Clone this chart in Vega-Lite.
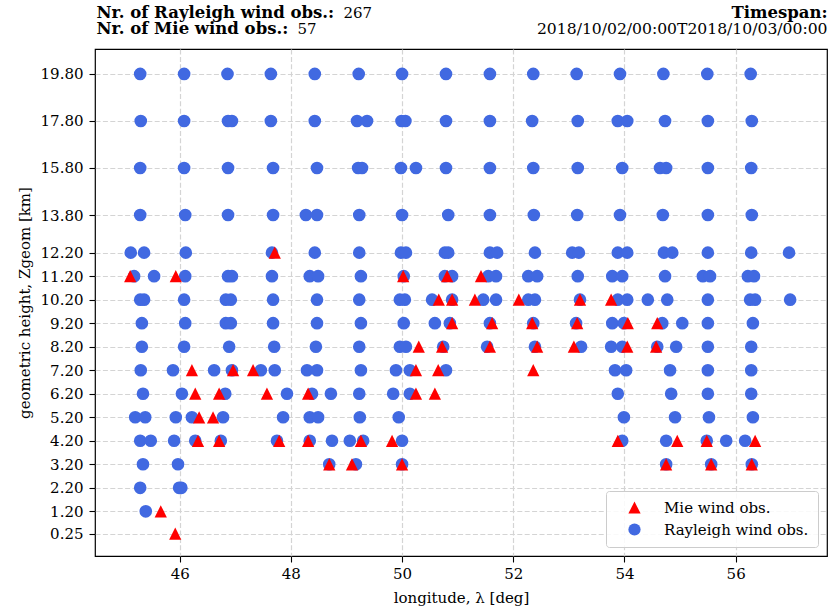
{
  "$schema": "https://vega.github.io/schema/vega-lite/v6.json",
  "width": 732,
  "height": 507,
  "autosize": {"type": "none"},
  "padding": {"left": 95, "top": 49, "right": 1, "bottom": 60},
  "background": "white",
  "config": {
    "view": {"stroke": "black", "strokeWidth": 1.2},
    "font": "DejaVu Serif",
    "axis": {
      "labelFont": "DejaVu Serif", "labelFontSize": 15, "labelColor": "black",
      "titleFont": "DejaVu Serif", "titleFontSize": 15, "titleFontWeight": "normal", "titleColor": "black",
      "tickColor": "black", "tickSize": 6, "tickWidth": 1.1,
      "domain": false,
      "gridColor": "#d4d4d4", "gridDash": [5, 2.4], "gridWidth": 1.2
    }
  },
  "data": {"values": [
    {"obs": "Rayleigh wind obs.", "lon": 45.29, "h": 19.8}, {"obs": "Rayleigh wind obs.", "lon": 46.08, "h": 19.8}, {"obs": "Rayleigh wind obs.", "lon": 46.86, "h": 19.8}, {"obs": "Rayleigh wind obs.", "lon": 47.64, "h": 19.8}, {"obs": "Rayleigh wind obs.", "lon": 48.43, "h": 19.8}, {"obs": "Rayleigh wind obs.", "lon": 49.22, "h": 19.8}, {"obs": "Rayleigh wind obs.", "lon": 50.0, "h": 19.8}, {"obs": "Rayleigh wind obs.", "lon": 50.79, "h": 19.8}, {"obs": "Rayleigh wind obs.", "lon": 51.58, "h": 19.8}, {"obs": "Rayleigh wind obs.", "lon": 52.36, "h": 19.8}, {"obs": "Rayleigh wind obs.", "lon": 53.14, "h": 19.8}, {"obs": "Rayleigh wind obs.", "lon": 53.92, "h": 19.8}, {"obs": "Rayleigh wind obs.", "lon": 54.7, "h": 19.8}, {"obs": "Rayleigh wind obs.", "lon": 55.49, "h": 19.8}, {"obs": "Rayleigh wind obs.", "lon": 56.27, "h": 19.8},
    {"obs": "Rayleigh wind obs.", "lon": 45.3, "h": 17.8}, {"obs": "Rayleigh wind obs.", "lon": 46.08, "h": 17.8}, {"obs": "Rayleigh wind obs.", "lon": 46.87, "h": 17.8}, {"obs": "Rayleigh wind obs.", "lon": 46.94, "h": 17.8}, {"obs": "Rayleigh wind obs.", "lon": 47.64, "h": 17.8}, {"obs": "Rayleigh wind obs.", "lon": 48.43, "h": 17.8}, {"obs": "Rayleigh wind obs.", "lon": 49.19, "h": 17.8}, {"obs": "Rayleigh wind obs.", "lon": 49.37, "h": 17.8}, {"obs": "Rayleigh wind obs.", "lon": 49.99, "h": 17.8}, {"obs": "Rayleigh wind obs.", "lon": 50.06, "h": 17.8}, {"obs": "Rayleigh wind obs.", "lon": 50.79, "h": 17.8}, {"obs": "Rayleigh wind obs.", "lon": 51.58, "h": 17.8}, {"obs": "Rayleigh wind obs.", "lon": 52.34, "h": 17.8}, {"obs": "Rayleigh wind obs.", "lon": 53.16, "h": 17.8}, {"obs": "Rayleigh wind obs.", "lon": 53.88, "h": 17.8}, {"obs": "Rayleigh wind obs.", "lon": 54.05, "h": 17.8}, {"obs": "Rayleigh wind obs.", "lon": 54.73, "h": 17.8}, {"obs": "Rayleigh wind obs.", "lon": 55.5, "h": 17.8}, {"obs": "Rayleigh wind obs.", "lon": 56.29, "h": 17.8},
    {"obs": "Rayleigh wind obs.", "lon": 45.29, "h": 15.8}, {"obs": "Rayleigh wind obs.", "lon": 46.08, "h": 15.8}, {"obs": "Rayleigh wind obs.", "lon": 46.87, "h": 15.8}, {"obs": "Rayleigh wind obs.", "lon": 47.68, "h": 15.8}, {"obs": "Rayleigh wind obs.", "lon": 48.47, "h": 15.8}, {"obs": "Rayleigh wind obs.", "lon": 49.21, "h": 15.8}, {"obs": "Rayleigh wind obs.", "lon": 49.28, "h": 15.8}, {"obs": "Rayleigh wind obs.", "lon": 49.98, "h": 15.8}, {"obs": "Rayleigh wind obs.", "lon": 50.25, "h": 15.8}, {"obs": "Rayleigh wind obs.", "lon": 50.79, "h": 15.8}, {"obs": "Rayleigh wind obs.", "lon": 51.58, "h": 15.8}, {"obs": "Rayleigh wind obs.", "lon": 52.36, "h": 15.8}, {"obs": "Rayleigh wind obs.", "lon": 53.16, "h": 15.8}, {"obs": "Rayleigh wind obs.", "lon": 53.96, "h": 15.8}, {"obs": "Rayleigh wind obs.", "lon": 54.64, "h": 15.8}, {"obs": "Rayleigh wind obs.", "lon": 54.75, "h": 15.8}, {"obs": "Rayleigh wind obs.", "lon": 55.5, "h": 15.8}, {"obs": "Rayleigh wind obs.", "lon": 56.28, "h": 15.8},
    {"obs": "Rayleigh wind obs.", "lon": 45.29, "h": 13.8}, {"obs": "Rayleigh wind obs.", "lon": 46.1, "h": 13.8}, {"obs": "Rayleigh wind obs.", "lon": 46.87, "h": 13.8}, {"obs": "Rayleigh wind obs.", "lon": 47.68, "h": 13.8}, {"obs": "Rayleigh wind obs.", "lon": 48.27, "h": 13.8}, {"obs": "Rayleigh wind obs.", "lon": 48.47, "h": 13.8}, {"obs": "Rayleigh wind obs.", "lon": 49.23, "h": 13.8}, {"obs": "Rayleigh wind obs.", "lon": 50.0, "h": 13.8}, {"obs": "Rayleigh wind obs.", "lon": 50.83, "h": 13.8}, {"obs": "Rayleigh wind obs.", "lon": 51.58, "h": 13.8}, {"obs": "Rayleigh wind obs.", "lon": 52.37, "h": 13.8}, {"obs": "Rayleigh wind obs.", "lon": 53.15, "h": 13.8}, {"obs": "Rayleigh wind obs.", "lon": 53.92, "h": 13.8}, {"obs": "Rayleigh wind obs.", "lon": 54.69, "h": 13.8}, {"obs": "Rayleigh wind obs.", "lon": 55.5, "h": 13.8}, {"obs": "Rayleigh wind obs.", "lon": 56.29, "h": 13.8},
    {"obs": "Rayleigh wind obs.", "lon": 45.12, "h": 12.2}, {"obs": "Rayleigh wind obs.", "lon": 45.36, "h": 12.2}, {"obs": "Rayleigh wind obs.", "lon": 46.11, "h": 12.2}, {"obs": "Rayleigh wind obs.", "lon": 47.66, "h": 12.2}, {"obs": "Rayleigh wind obs.", "lon": 48.43, "h": 12.2}, {"obs": "Rayleigh wind obs.", "lon": 49.23, "h": 12.2}, {"obs": "Rayleigh wind obs.", "lon": 49.98, "h": 12.2}, {"obs": "Rayleigh wind obs.", "lon": 50.07, "h": 12.2}, {"obs": "Rayleigh wind obs.", "lon": 50.77, "h": 12.2}, {"obs": "Rayleigh wind obs.", "lon": 50.83, "h": 12.2}, {"obs": "Rayleigh wind obs.", "lon": 51.58, "h": 12.2}, {"obs": "Rayleigh wind obs.", "lon": 51.71, "h": 12.2}, {"obs": "Rayleigh wind obs.", "lon": 52.39, "h": 12.2}, {"obs": "Rayleigh wind obs.", "lon": 53.06, "h": 12.2}, {"obs": "Rayleigh wind obs.", "lon": 53.18, "h": 12.2}, {"obs": "Rayleigh wind obs.", "lon": 53.88, "h": 12.2}, {"obs": "Rayleigh wind obs.", "lon": 54.05, "h": 12.2}, {"obs": "Rayleigh wind obs.", "lon": 54.71, "h": 12.2}, {"obs": "Rayleigh wind obs.", "lon": 54.86, "h": 12.2}, {"obs": "Rayleigh wind obs.", "lon": 55.5, "h": 12.2}, {"obs": "Rayleigh wind obs.", "lon": 56.28, "h": 12.2}, {"obs": "Rayleigh wind obs.", "lon": 56.96, "h": 12.2},
    {"obs": "Rayleigh wind obs.", "lon": 45.18, "h": 11.2}, {"obs": "Rayleigh wind obs.", "lon": 45.54, "h": 11.2}, {"obs": "Rayleigh wind obs.", "lon": 46.1, "h": 11.2}, {"obs": "Rayleigh wind obs.", "lon": 46.87, "h": 11.2}, {"obs": "Rayleigh wind obs.", "lon": 46.94, "h": 11.2}, {"obs": "Rayleigh wind obs.", "lon": 47.66, "h": 11.2}, {"obs": "Rayleigh wind obs.", "lon": 48.34, "h": 11.2}, {"obs": "Rayleigh wind obs.", "lon": 48.49, "h": 11.2}, {"obs": "Rayleigh wind obs.", "lon": 49.26, "h": 11.2}, {"obs": "Rayleigh wind obs.", "lon": 50.03, "h": 11.2}, {"obs": "Rayleigh wind obs.", "lon": 50.77, "h": 11.2}, {"obs": "Rayleigh wind obs.", "lon": 50.9, "h": 11.2}, {"obs": "Rayleigh wind obs.", "lon": 51.55, "h": 11.2}, {"obs": "Rayleigh wind obs.", "lon": 51.69, "h": 11.2}, {"obs": "Rayleigh wind obs.", "lon": 52.27, "h": 11.2}, {"obs": "Rayleigh wind obs.", "lon": 52.43, "h": 11.2}, {"obs": "Rayleigh wind obs.", "lon": 53.16, "h": 11.2}, {"obs": "Rayleigh wind obs.", "lon": 53.78, "h": 11.2}, {"obs": "Rayleigh wind obs.", "lon": 53.96, "h": 11.2}, {"obs": "Rayleigh wind obs.", "lon": 54.73, "h": 11.2}, {"obs": "Rayleigh wind obs.", "lon": 55.41, "h": 11.2}, {"obs": "Rayleigh wind obs.", "lon": 55.54, "h": 11.2}, {"obs": "Rayleigh wind obs.", "lon": 56.22, "h": 11.2}, {"obs": "Rayleigh wind obs.", "lon": 56.33, "h": 11.2},
    {"obs": "Rayleigh wind obs.", "lon": 45.29, "h": 10.2}, {"obs": "Rayleigh wind obs.", "lon": 45.36, "h": 10.2}, {"obs": "Rayleigh wind obs.", "lon": 46.08, "h": 10.2}, {"obs": "Rayleigh wind obs.", "lon": 46.83, "h": 10.2}, {"obs": "Rayleigh wind obs.", "lon": 46.92, "h": 10.2}, {"obs": "Rayleigh wind obs.", "lon": 47.68, "h": 10.2}, {"obs": "Rayleigh wind obs.", "lon": 48.47, "h": 10.2}, {"obs": "Rayleigh wind obs.", "lon": 49.23, "h": 10.2}, {"obs": "Rayleigh wind obs.", "lon": 49.96, "h": 10.2}, {"obs": "Rayleigh wind obs.", "lon": 50.05, "h": 10.2}, {"obs": "Rayleigh wind obs.", "lon": 50.54, "h": 10.2}, {"obs": "Rayleigh wind obs.", "lon": 50.9, "h": 10.2}, {"obs": "Rayleigh wind obs.", "lon": 51.46, "h": 10.2}, {"obs": "Rayleigh wind obs.", "lon": 51.69, "h": 10.2}, {"obs": "Rayleigh wind obs.", "lon": 52.27, "h": 10.2}, {"obs": "Rayleigh wind obs.", "lon": 52.39, "h": 10.2}, {"obs": "Rayleigh wind obs.", "lon": 53.2, "h": 10.2}, {"obs": "Rayleigh wind obs.", "lon": 53.88, "h": 10.2}, {"obs": "Rayleigh wind obs.", "lon": 54.05, "h": 10.2}, {"obs": "Rayleigh wind obs.", "lon": 54.42, "h": 10.2}, {"obs": "Rayleigh wind obs.", "lon": 54.77, "h": 10.2}, {"obs": "Rayleigh wind obs.", "lon": 55.5, "h": 10.2}, {"obs": "Rayleigh wind obs.", "lon": 56.26, "h": 10.2}, {"obs": "Rayleigh wind obs.", "lon": 56.35, "h": 10.2}, {"obs": "Rayleigh wind obs.", "lon": 56.98, "h": 10.2},
    {"obs": "Rayleigh wind obs.", "lon": 45.32, "h": 9.2}, {"obs": "Rayleigh wind obs.", "lon": 46.1, "h": 9.2}, {"obs": "Rayleigh wind obs.", "lon": 46.83, "h": 9.2}, {"obs": "Rayleigh wind obs.", "lon": 46.92, "h": 9.2}, {"obs": "Rayleigh wind obs.", "lon": 47.68, "h": 9.2}, {"obs": "Rayleigh wind obs.", "lon": 48.47, "h": 9.2}, {"obs": "Rayleigh wind obs.", "lon": 49.26, "h": 9.2}, {"obs": "Rayleigh wind obs.", "lon": 50.03, "h": 9.2}, {"obs": "Rayleigh wind obs.", "lon": 50.59, "h": 9.2}, {"obs": "Rayleigh wind obs.", "lon": 50.86, "h": 9.2}, {"obs": "Rayleigh wind obs.", "lon": 51.58, "h": 9.2}, {"obs": "Rayleigh wind obs.", "lon": 52.36, "h": 9.2}, {"obs": "Rayleigh wind obs.", "lon": 53.13, "h": 9.2}, {"obs": "Rayleigh wind obs.", "lon": 53.78, "h": 9.2}, {"obs": "Rayleigh wind obs.", "lon": 53.99, "h": 9.2}, {"obs": "Rayleigh wind obs.", "lon": 54.68, "h": 9.2}, {"obs": "Rayleigh wind obs.", "lon": 55.04, "h": 9.2}, {"obs": "Rayleigh wind obs.", "lon": 55.5, "h": 9.2}, {"obs": "Rayleigh wind obs.", "lon": 56.31, "h": 9.2},
    {"obs": "Rayleigh wind obs.", "lon": 45.32, "h": 8.2}, {"obs": "Rayleigh wind obs.", "lon": 46.08, "h": 8.2}, {"obs": "Rayleigh wind obs.", "lon": 46.89, "h": 8.2}, {"obs": "Rayleigh wind obs.", "lon": 47.7, "h": 8.2}, {"obs": "Rayleigh wind obs.", "lon": 48.45, "h": 8.2}, {"obs": "Rayleigh wind obs.", "lon": 49.23, "h": 8.2}, {"obs": "Rayleigh wind obs.", "lon": 49.96, "h": 8.2}, {"obs": "Rayleigh wind obs.", "lon": 50.07, "h": 8.2}, {"obs": "Rayleigh wind obs.", "lon": 50.74, "h": 8.2}, {"obs": "Rayleigh wind obs.", "lon": 51.53, "h": 8.2}, {"obs": "Rayleigh wind obs.", "lon": 52.39, "h": 8.2}, {"obs": "Rayleigh wind obs.", "lon": 53.22, "h": 8.2}, {"obs": "Rayleigh wind obs.", "lon": 53.76, "h": 8.2}, {"obs": "Rayleigh wind obs.", "lon": 53.96, "h": 8.2}, {"obs": "Rayleigh wind obs.", "lon": 54.59, "h": 8.2}, {"obs": "Rayleigh wind obs.", "lon": 54.93, "h": 8.2}, {"obs": "Rayleigh wind obs.", "lon": 55.5, "h": 8.2}, {"obs": "Rayleigh wind obs.", "lon": 56.28, "h": 8.2},
    {"obs": "Rayleigh wind obs.", "lon": 45.3, "h": 7.2}, {"obs": "Rayleigh wind obs.", "lon": 45.88, "h": 7.2}, {"obs": "Rayleigh wind obs.", "lon": 46.62, "h": 7.2}, {"obs": "Rayleigh wind obs.", "lon": 46.94, "h": 7.2}, {"obs": "Rayleigh wind obs.", "lon": 47.46, "h": 7.2}, {"obs": "Rayleigh wind obs.", "lon": 47.71, "h": 7.2}, {"obs": "Rayleigh wind obs.", "lon": 48.29, "h": 7.2}, {"obs": "Rayleigh wind obs.", "lon": 48.47, "h": 7.2}, {"obs": "Rayleigh wind obs.", "lon": 49.26, "h": 7.2}, {"obs": "Rayleigh wind obs.", "lon": 49.89, "h": 7.2}, {"obs": "Rayleigh wind obs.", "lon": 50.14, "h": 7.2}, {"obs": "Rayleigh wind obs.", "lon": 50.79, "h": 7.2}, {"obs": "Rayleigh wind obs.", "lon": 53.83, "h": 7.2}, {"obs": "Rayleigh wind obs.", "lon": 54.03, "h": 7.2}, {"obs": "Rayleigh wind obs.", "lon": 54.82, "h": 7.2}, {"obs": "Rayleigh wind obs.", "lon": 55.5, "h": 7.2}, {"obs": "Rayleigh wind obs.", "lon": 56.28, "h": 7.2},
    {"obs": "Rayleigh wind obs.", "lon": 45.34, "h": 6.2}, {"obs": "Rayleigh wind obs.", "lon": 46.04, "h": 6.2}, {"obs": "Rayleigh wind obs.", "lon": 46.82, "h": 6.2}, {"obs": "Rayleigh wind obs.", "lon": 47.93, "h": 6.2}, {"obs": "Rayleigh wind obs.", "lon": 48.38, "h": 6.2}, {"obs": "Rayleigh wind obs.", "lon": 48.72, "h": 6.2}, {"obs": "Rayleigh wind obs.", "lon": 49.23, "h": 6.2}, {"obs": "Rayleigh wind obs.", "lon": 49.84, "h": 6.2}, {"obs": "Rayleigh wind obs.", "lon": 50.14, "h": 6.2}, {"obs": "Rayleigh wind obs.", "lon": 53.88, "h": 6.2}, {"obs": "Rayleigh wind obs.", "lon": 54.84, "h": 6.2}, {"obs": "Rayleigh wind obs.", "lon": 55.5, "h": 6.2}, {"obs": "Rayleigh wind obs.", "lon": 56.28, "h": 6.2},
    {"obs": "Rayleigh wind obs.", "lon": 45.2, "h": 5.2}, {"obs": "Rayleigh wind obs.", "lon": 45.38, "h": 5.2}, {"obs": "Rayleigh wind obs.", "lon": 45.93, "h": 5.2}, {"obs": "Rayleigh wind obs.", "lon": 46.22, "h": 5.2}, {"obs": "Rayleigh wind obs.", "lon": 46.78, "h": 5.2}, {"obs": "Rayleigh wind obs.", "lon": 47.86, "h": 5.2}, {"obs": "Rayleigh wind obs.", "lon": 48.34, "h": 5.2}, {"obs": "Rayleigh wind obs.", "lon": 48.49, "h": 5.2}, {"obs": "Rayleigh wind obs.", "lon": 49.24, "h": 5.2}, {"obs": "Rayleigh wind obs.", "lon": 49.94, "h": 5.2}, {"obs": "Rayleigh wind obs.", "lon": 53.99, "h": 5.2}, {"obs": "Rayleigh wind obs.", "lon": 54.91, "h": 5.2}, {"obs": "Rayleigh wind obs.", "lon": 55.52, "h": 5.2}, {"obs": "Rayleigh wind obs.", "lon": 56.31, "h": 5.2},
    {"obs": "Rayleigh wind obs.", "lon": 45.29, "h": 4.2}, {"obs": "Rayleigh wind obs.", "lon": 45.48, "h": 4.2}, {"obs": "Rayleigh wind obs.", "lon": 45.9, "h": 4.2}, {"obs": "Rayleigh wind obs.", "lon": 46.28, "h": 4.2}, {"obs": "Rayleigh wind obs.", "lon": 46.74, "h": 4.2}, {"obs": "Rayleigh wind obs.", "lon": 47.75, "h": 4.2}, {"obs": "Rayleigh wind obs.", "lon": 48.34, "h": 4.2}, {"obs": "Rayleigh wind obs.", "lon": 48.74, "h": 4.2}, {"obs": "Rayleigh wind obs.", "lon": 49.06, "h": 4.2}, {"obs": "Rayleigh wind obs.", "lon": 49.3, "h": 4.2}, {"obs": "Rayleigh wind obs.", "lon": 50.0, "h": 4.2}, {"obs": "Rayleigh wind obs.", "lon": 53.96, "h": 4.2}, {"obs": "Rayleigh wind obs.", "lon": 54.75, "h": 4.2}, {"obs": "Rayleigh wind obs.", "lon": 55.48, "h": 4.2}, {"obs": "Rayleigh wind obs.", "lon": 55.83, "h": 4.2}, {"obs": "Rayleigh wind obs.", "lon": 56.17, "h": 4.2},
    {"obs": "Rayleigh wind obs.", "lon": 45.34, "h": 3.2}, {"obs": "Rayleigh wind obs.", "lon": 45.97, "h": 3.2}, {"obs": "Rayleigh wind obs.", "lon": 48.69, "h": 3.2}, {"obs": "Rayleigh wind obs.", "lon": 49.17, "h": 3.2}, {"obs": "Rayleigh wind obs.", "lon": 50.0, "h": 3.2}, {"obs": "Rayleigh wind obs.", "lon": 54.75, "h": 3.2}, {"obs": "Rayleigh wind obs.", "lon": 55.56, "h": 3.2}, {"obs": "Rayleigh wind obs.", "lon": 56.29, "h": 3.2},
    {"obs": "Rayleigh wind obs.", "lon": 45.29, "h": 2.2}, {"obs": "Rayleigh wind obs.", "lon": 45.99, "h": 2.2}, {"obs": "Rayleigh wind obs.", "lon": 46.03, "h": 2.2},
    {"obs": "Rayleigh wind obs.", "lon": 45.39, "h": 1.2},
    {"obs": "Mie wind obs.", "lon": 47.71, "h": 12.2},
    {"obs": "Mie wind obs.", "lon": 45.11, "h": 11.2}, {"obs": "Mie wind obs.", "lon": 45.93, "h": 11.2}, {"obs": "Mie wind obs.", "lon": 50.02, "h": 11.2}, {"obs": "Mie wind obs.", "lon": 50.81, "h": 11.2}, {"obs": "Mie wind obs.", "lon": 51.42, "h": 11.2},
    {"obs": "Mie wind obs.", "lon": 50.66, "h": 10.2}, {"obs": "Mie wind obs.", "lon": 50.9, "h": 10.2}, {"obs": "Mie wind obs.", "lon": 51.31, "h": 10.2}, {"obs": "Mie wind obs.", "lon": 52.1, "h": 10.2}, {"obs": "Mie wind obs.", "lon": 53.2, "h": 10.2}, {"obs": "Mie wind obs.", "lon": 53.76, "h": 10.2},
    {"obs": "Mie wind obs.", "lon": 50.9, "h": 9.2}, {"obs": "Mie wind obs.", "lon": 51.62, "h": 9.2}, {"obs": "Mie wind obs.", "lon": 52.34, "h": 9.2}, {"obs": "Mie wind obs.", "lon": 53.15, "h": 9.2}, {"obs": "Mie wind obs.", "lon": 54.06, "h": 9.2}, {"obs": "Mie wind obs.", "lon": 54.59, "h": 9.2},
    {"obs": "Mie wind obs.", "lon": 50.3, "h": 8.2}, {"obs": "Mie wind obs.", "lon": 50.72, "h": 8.2}, {"obs": "Mie wind obs.", "lon": 51.58, "h": 8.2}, {"obs": "Mie wind obs.", "lon": 52.43, "h": 8.2}, {"obs": "Mie wind obs.", "lon": 53.09, "h": 8.2}, {"obs": "Mie wind obs.", "lon": 54.05, "h": 8.2}, {"obs": "Mie wind obs.", "lon": 54.57, "h": 8.2},
    {"obs": "Mie wind obs.", "lon": 46.22, "h": 7.2}, {"obs": "Mie wind obs.", "lon": 46.96, "h": 7.2}, {"obs": "Mie wind obs.", "lon": 47.32, "h": 7.2}, {"obs": "Mie wind obs.", "lon": 50.25, "h": 7.2}, {"obs": "Mie wind obs.", "lon": 50.65, "h": 7.2}, {"obs": "Mie wind obs.", "lon": 52.36, "h": 7.2},
    {"obs": "Mie wind obs.", "lon": 46.28, "h": 6.2}, {"obs": "Mie wind obs.", "lon": 46.71, "h": 6.2}, {"obs": "Mie wind obs.", "lon": 47.57, "h": 6.2}, {"obs": "Mie wind obs.", "lon": 48.31, "h": 6.2}, {"obs": "Mie wind obs.", "lon": 50.25, "h": 6.2}, {"obs": "Mie wind obs.", "lon": 50.59, "h": 6.2},
    {"obs": "Mie wind obs.", "lon": 46.35, "h": 5.2}, {"obs": "Mie wind obs.", "lon": 46.6, "h": 5.2},
    {"obs": "Mie wind obs.", "lon": 46.33, "h": 4.2}, {"obs": "Mie wind obs.", "lon": 46.71, "h": 4.2}, {"obs": "Mie wind obs.", "lon": 47.79, "h": 4.2}, {"obs": "Mie wind obs.", "lon": 48.31, "h": 4.2}, {"obs": "Mie wind obs.", "lon": 49.26, "h": 4.2}, {"obs": "Mie wind obs.", "lon": 49.82, "h": 4.2}, {"obs": "Mie wind obs.", "lon": 53.88, "h": 4.2}, {"obs": "Mie wind obs.", "lon": 54.95, "h": 4.2}, {"obs": "Mie wind obs.", "lon": 55.48, "h": 4.2}, {"obs": "Mie wind obs.", "lon": 56.35, "h": 4.2},
    {"obs": "Mie wind obs.", "lon": 48.69, "h": 3.2}, {"obs": "Mie wind obs.", "lon": 49.1, "h": 3.2}, {"obs": "Mie wind obs.", "lon": 50.0, "h": 3.2}, {"obs": "Mie wind obs.", "lon": 54.75, "h": 3.2}, {"obs": "Mie wind obs.", "lon": 55.56, "h": 3.2}, {"obs": "Mie wind obs.", "lon": 56.29, "h": 3.2},
    {"obs": "Mie wind obs.", "lon": 45.66, "h": 1.2},
    {"obs": "Mie wind obs.", "lon": 45.92, "h": 0.25}
  ]},
  "resolve": {"axis": {"x": "independent", "y": "independent"}},
  "layer": [
    {
      "transform": [{"filter": "datum.obs === 'Rayleigh wind obs.'"}],
      "mark": {"type": "point", "filled": true, "opacity": 1, "size": 160, "strokeWidth": 0},
      "encoding": {
        "x": {"field": "lon", "type": "quantitative",
              "scale": {"domain": [44.477, 57.643], "nice": false, "zero": false},
              "axis": {"values": [46, 48, 50, 52, 54, 56], "format": "d", "grid": true,
                       "labelPadding": 4, "title": "longitude, λ [deg]", "titlePadding": 9}},
        "y": {"field": "h", "type": "quantitative",
              "scale": {"domain": [-0.7, 20.86], "nice": false, "zero": false},
              "axis": {"values": [0.25, 1.2, 2.2, 3.2, 4.2, 5.2, 6.2, 7.2, 8.2, 9.2, 10.2, 11.2, 12.2, 13.8, 15.8, 17.8, 19.8],
                       "format": ".2f", "grid": true, "labelPadding": 6,
                       "title": "geometric height, Zgeom [km]", "titlePadding": 8}},
        "color": {"field": "obs", "type": "nominal",
                  "scale": {"domain": ["Mie wind obs.", "Rayleigh wind obs."], "range": ["#ff0000", "#4169e1"]},
                  "legend": {"title": null, "orient": "bottom-right", "offset": 9,
                             "strokeColor": "#cccccc", "fillColor": "rgba(255,255,255,0.85)", "cornerRadius": 3,
                             "padding": 9, "labelFont": "DejaVu Serif", "labelFontSize": 15, "labelColor": "black",
                             "symbolSize": 150, "symbolStrokeWidth": 0, "symbolOffset": 12, "labelOffset": 22, "rowPadding": 6}},
        "shape": {"field": "obs", "type": "nominal",
                  "scale": {"domain": ["Mie wind obs.", "Rayleigh wind obs."], "range": ["M0,-1L1,1L-1,1Z", "circle"]},
                  "legend": null}
      }
    },
    {
      "transform": [{"filter": "datum.obs === 'Mie wind obs.'"}],
      "mark": {"type": "point", "filled": true, "opacity": 1, "size": 150, "strokeWidth": 0},
      "encoding": {
        "x": {"field": "lon", "type": "quantitative",
              "axis": {"orient": "top", "domain": false, "ticks": false, "labels": false, "grid": false,
                       "title": ["Nr. of Rayleigh wind obs.:", "Nr. of Mie wind obs.:"],
                       "titleFontWeight": "bold", "titleFontSize": 16.5, "titleX": 1, "titleY": -32, "titleAlign": "left",
                       "titleAngle": 0, "titleBaseline": "alphabetic", "titleLineHeight": 16.5}},
        "y": {"field": "h", "type": "quantitative",
              "axis": {"orient": "right", "domain": false, "ticks": false, "labels": false, "grid": false,
                       "title": "267", "titleX": -484, "titleY": -32, "titleAlign": "left",
                       "titleAngle": 0, "titleBaseline": "alphabetic"}},
        "color": {"field": "obs", "type": "nominal"},
        "shape": {"field": "obs", "type": "nominal"}
      }
    },
    {
      "transform": [{"filter": "datum.obs === 'Mie wind obs.'"}],
      "mark": {"type": "point", "opacity": 0},
      "encoding": {
        "x": {"field": "lon", "type": "quantitative",
              "axis": {"orient": "top", "domain": false, "ticks": false, "labels": false, "grid": false,
                       "title": "57", "titleX": 202, "titleY": -15.5, "titleAlign": "left",
                       "titleAngle": 0, "titleBaseline": "alphabetic"}},
        "y": {"field": "h", "type": "quantitative",
              "axis": {"orient": "right", "domain": false, "ticks": false, "labels": false, "grid": false,
                       "title": "Timespan:", "titleFontWeight": "bold", "titleFontSize": 16.5,
                       "titleX": 0, "titleY": -32, "titleAlign": "right",
                       "titleAngle": 0, "titleBaseline": "alphabetic"}}
      }
    },
    {
      "transform": [{"filter": "datum.obs === 'Mie wind obs.'"}],
      "mark": {"type": "point", "opacity": 0},
      "encoding": {
        "x": {"field": "lon", "type": "quantitative",
              "axis": {"orient": "top", "domain": false, "ticks": false, "labels": false, "grid": false,
                       "title": "2018/10/02/00:00T2018/10/03/00:00", "titleFontSize": 15.6,
                       "titleX": 732, "titleY": -15.5, "titleAlign": "right",
                       "titleAngle": 0, "titleBaseline": "alphabetic"}},
        "y": {"field": "h", "type": "quantitative", "axis": null}
      }
    }
  ]
}
